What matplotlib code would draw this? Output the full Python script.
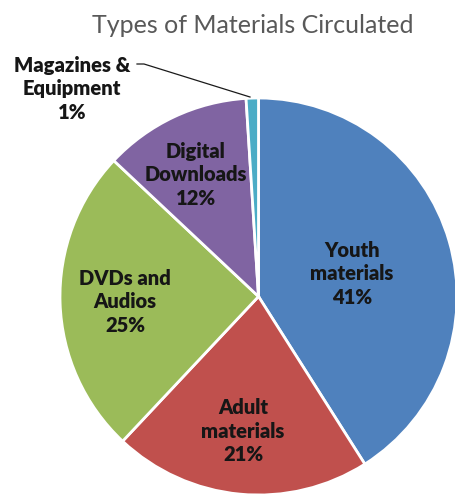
import matplotlib
matplotlib.use("Agg")
import matplotlib.pyplot as plt

categories = ["Youth\nmaterials", "Adult\nmaterials", "DVDs and\nAudios",
              "Digital\nDownloads", "Magazines &\nEquipment"]
values = [41, 21, 25, 12, 1]
colors = ["#4F81BD", "#C0504D", "#9BBB59", "#8064A2", "#4BACC6"]

W, H = 456, 496
fig = plt.figure(figsize=(W / 100, H / 100), dpi=100)
fig.patch.set_facecolor("white")

# pie centre and radius in pixels
cx, cy, r = 258.5, 296.5, 198.5
ax = fig.add_axes([(cx - r) / W, (H - cy - r) / H, 2 * r / W, 2 * r / H])

wedges, _ = ax.pie(values, colors=colors, startangle=90, counterclock=False,
                   radius=1, wedgeprops=dict(edgecolor="white", linewidth=2))
for w in wedges:
    w.set_clip_on(False)
ax.set_xlim(-1, 1)
ax.set_ylim(-1, 1)
ax.set_aspect("equal")
ax.axis("off")


def px(x, y):
    return ((x - cx) / r, (cy - y) / r)


label_pos = [px(352, 274), px(243, 431), px(125, 302), px(196, 175), px(72, 89)]
font = dict(family="Lato", weight="heavy", fontsize=14.5, color="#161616",
            ha="center", va="center", linespacing=1.3)
for cat, v, pos in zip(categories, values, label_pos):
    ax.text(pos[0], pos[1], f"{cat}\n{v}%", clip_on=False, **font)

# leader line for the smallest slice
pts = [px(137, 64), px(144, 64), px(250, 97)]
ax.plot([p[0] for p in pts], [p[1] for p in pts], color="#1a1a1a",
        linewidth=0.9, clip_on=False)

fig.text(253 / W, 1 - 33 / H, "Types of Materials Circulated", family="Lato",
         fontsize=18, color="#595959", ha="center", va="baseline")

fig.savefig("out.png", dpi=100)
